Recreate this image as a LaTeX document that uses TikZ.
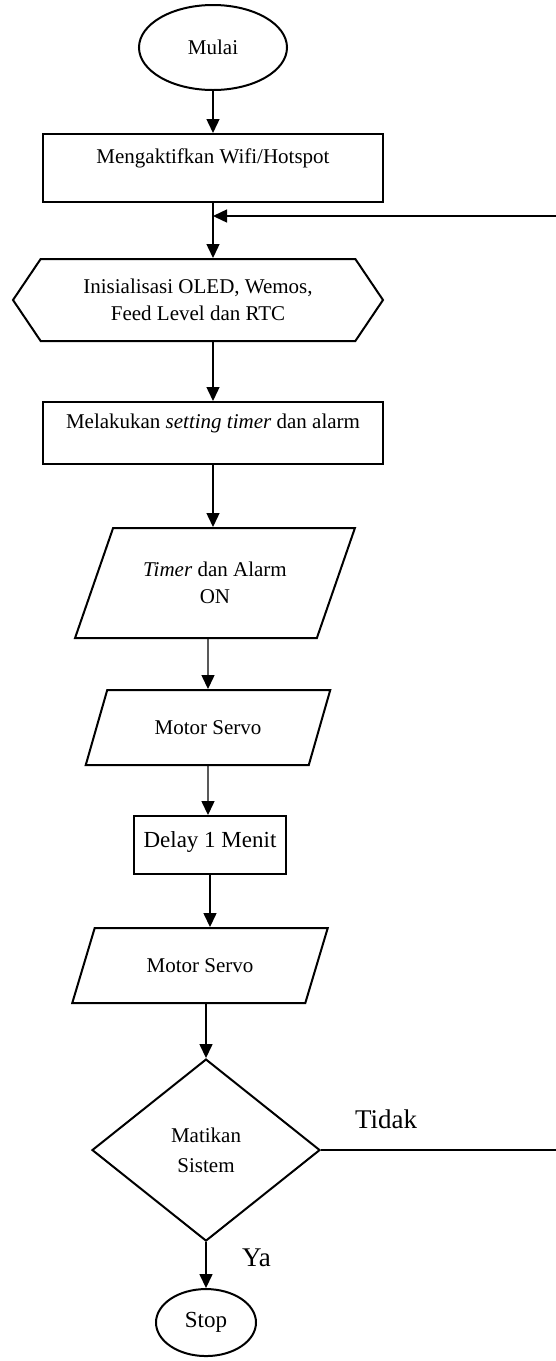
\documentclass[tikz,border=0pt]{standalone}
\usepackage{fontspec}
\setmainfont{Liberation Serif}
\usetikzlibrary{shapes.geometric,shapes.symbols,arrows.meta,positioning}

\begin{document}
\begin{tikzpicture}[
    node distance=24pt, auto,
    base/.style={draw, line width=1pt, align=center, font=\fontsize{10.5}{13.5}\selectfont},
    terminal/.style={base, ellipse},
    process/.style={base, rectangle, minimum width=170pt, minimum height=33pt, text depth=12pt},
    prep/.style={base, signal, signal to=east and west, signal pointer angle=112, minimum width=185pt, minimum height=41pt},
    io/.style={base, trapezium, trapezium left angle=#1, trapezium right angle=180-#1, trapezium stretches=true},
    decision/.style={base, diamond, minimum width=114pt, minimum height=91pt, font=\fontsize{10.5}{15}\selectfont},
    arrow/.style={-{Triangle[length=7pt,width=6.5pt]}, line width=0.7pt},
    answer/.style={font=\fontsize{13.5}{16}\selectfont}
]
    \useasboundingbox (0,0) rectangle (278pt,-680.5pt);
    % main column
    \node[terminal, minimum width=74pt, minimum height=42.5pt] (start) at (106.5pt,-23.75pt) {Mulai};
    \node[process, below=21pt of start, minimum height=34pt] (wifi) {Mengaktifkan Wifi/Hotspot};
    \node[prep, below=27.5pt of wifi, xshift=-7.5pt] (init) {Inisialisasi OLED, Wemos,\\Feed Level dan RTC};
    \node[process, below=29.5pt of init, xshift=7.5pt, minimum height=31pt] (setting) {Melakukan \textit{setting timer} dan alarm};
    \node[io=62, below=31pt of setting, xshift=1pt, minimum width=140pt, minimum height=55pt] (alarm) {\textit{Timer} dan Alarm\\ON};
    \node[io=65, below=25pt of alarm, xshift=-3.5pt, minimum width=122.5pt, minimum height=37.5pt] (servoa) {Motor Servo};
    \node[process, below=24.5pt of servoa, xshift=1pt, minimum width=76pt, minimum height=29pt, text depth=6pt, font=\fontsize{11.5}{14}\selectfont] (delay) {Delay 1 Menit};
    \node[io=65, below=26pt of delay, xshift=-5pt, minimum width=128pt, minimum height=37.5pt] (servob) {Motor Servo};
    \node[decision, below=27pt of servob, xshift=3pt] (stop?) {Matikan\\Sistem};
    \node[terminal, below=23pt of stop?, minimum width=50pt, minimum height=33.5pt, font=\fontsize{11.5}{14}\selectfont] (stop) {Stop};

    % branch labels
    \node[answer, above right=7pt and 13.5pt of stop?.east] (no) {Tidak};
    \node[answer, below right=0pt and 14.5pt of stop?.south] (yes) {Ya};

    % return path
    \coordinate[below=6.5pt of wifi] (merge);
    \coordinate[right=176pt of merge] (back);

    \draw[arrow] (start) -- (wifi);
    \draw[arrow] (wifi) -- (wifi |- init.north);
    \draw[arrow] (setting |- init.south) -- (setting);
    \draw[arrow] (setting) -- (setting |- alarm.north);
    \draw[arrow] (servoa |- alarm.south) -- (servoa);
    \draw[arrow] (servoa) -- (servoa |- delay.north);
    \draw[arrow] (delay) -- (delay |- servob.north);
    \draw[arrow] (stop? |- servob.south) -- (stop?);
    \draw[arrow] (stop?) -- (stop);
    \draw[arrow] (stop?.east) -| (back) -- (merge);
\end{tikzpicture}
\end{document}
